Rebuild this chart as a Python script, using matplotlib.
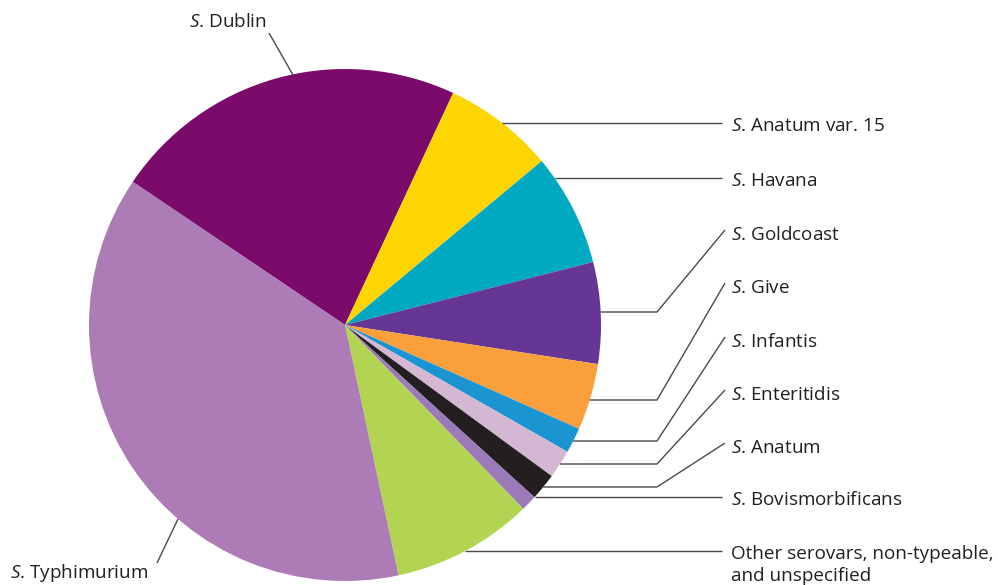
import matplotlib
matplotlib.use("Agg")
import numpy as np
import matplotlib.pyplot as plt

# serovar shares (%), clockwise from the top-left
serovars = ["Dublin", "Anatum var. 15", "Havana", "Goldcoast", "Give", "Infantis",
            "Enteritidis", "Anatum", "Bovismorbificans", "Other", "Typhimurium"]
shares = [22.5, 7.0, 7.1, 6.4, 4.2, 1.6, 1.8, 1.7, 1.0, 8.9, 37.8]
colors = ["#7b0b6b", "#fdd500", "#00a9c2", "#663694", "#f9a03c", "#1b94d2",
          "#d3b7d3", "#231f20", "#9c7ab9", "#b2d452", "#ad7bb5"]

# right-hand labels: text, label row (px from top), row where the leader leaves the pie
right_labels = ["$\\mathit{S}$. Anatum var. 15", "$\\mathit{S}$. Havana",
                "$\\mathit{S}$. Goldcoast", "$\\mathit{S}$. Give",
                "$\\mathit{S}$. Infantis", "$\\mathit{S}$. Enteritidis",
                "$\\mathit{S}$. Anatum", "$\\mathit{S}$. Bovismorbificans",
                "Other serovars, non-typeable,\nand unspecified"]
label_rows = [123, 178, 232, 285, 339, 392, 445, 497, 551]
leader_rows = [123, 178, 312, 400, 441, 464, 487, 497, 551]
elbow = [False, False, True, True, True, True, True, False, False]

W, H = 998, 585
cx, cy, R = 345, 325, 256

plt.rcParams["font.family"] = ["Open Sans", "DejaVu Sans"]
plt.rcParams["mathtext.fontset"] = "custom"
plt.rcParams["mathtext.rm"] = "Open Sans"
plt.rcParams["mathtext.it"] = "Open Sans:italic"

fig = plt.figure(figsize=(W / 100, H / 100), dpi=100)
ax = fig.add_axes([0, 0, 1, 1])


def fy(y):
    # pixel row -> data y
    return H - y


ax.pie(shares, colors=colors, startangle=146.0, counterclock=False,
       center=(cx, fy(cy)), radius=R, frame=True,
       wedgeprops=dict(linewidth=0))

line_kw = dict(color="#4a4a4a", lw=1.0, solid_capstyle="butt")
text_kw = dict(fontsize=13.6, color="#231f20")

for txt, ty, ly, bend in zip(right_labels, label_rows, leader_rows, elbow):
    x0 = cx + np.sqrt(R ** 2 - (ly - cy) ** 2)
    if bend:
        ax.plot([x0, 657, 725], [fy(ly), fy(ly), fy(ty - 2)], **line_kw)
    else:
        ax.plot([x0, 722], [fy(ly), fy(ly)], **line_kw)
    if "\n" in txt:
        ax.text(731, fy(ty + 14), txt, ha="left", va="center", linespacing=1.25, **text_kw)
    else:
        ax.text(731, fy(ty + 3), txt, ha="left", va="center", **text_kw)

# Dublin, above the pie
ax.plot([269, 293], [fy(33), fy(75)], **line_kw)
ax.text(228, fy(22), "$\\mathit{S}$. Dublin", ha="center", va="center", **text_kw)

# Typhimurium, bottom left
ax.plot([157, 178], [fy(563), fy(519)], **line_kw)
ax.text(10, fy(573), "$\\mathit{S}$. Typhimurium", ha="left", va="center", **text_kw)

ax.set_xlim(0, W)
ax.set_ylim(0, H)
ax.set_aspect("equal")
ax.axis("off")

fig.savefig("out.png", dpi=100, facecolor="white")
